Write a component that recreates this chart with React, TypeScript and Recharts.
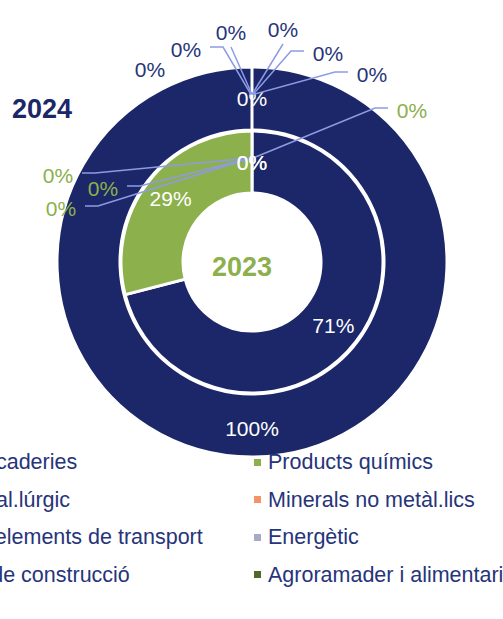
import React from 'react';
import { PieChart, Pie, Cell } from 'recharts';

const CATEGORIES = [
  'Altres mercaderies',
  'Products químics',
  'Siderometal.lúrgic',
  'Minerals no metàl.lics',
  'Vehicles i elements de transport',
  'Energètic',
  'Materials de construcció',
  'Agroramader i alimentari',
];
const COLORS = ['#1B2768', '#8CB04C', '#4A78C0', '#F39468', '#8EA0D8', '#A5ABC6', '#6E7FB3', '#50692B'];

const VALUES_2023 = [71, 29, 0, 0, 0, 0, 0, 0];
const VALUES_2024 = [100, 0, 0, 0, 0, 0, 0, 0];

const NAVY = '#1B2768';
const GREEN = '#8CB04C';
const TEXT = '#26347A';
const LEADER = '#8E9BE4';
const FONT = '"Liberation Sans", Arial, sans-serif';

const CX = 252;
const CY = 262;

// where the zero labels were dragged to, relative to the chart centre; null = left in place
type Spot = { dx: number; dy: number; line: 'left' | 'right' | 'below' | 'none' } | null;
const SPOTS_2024: Spot[] = [
  null,
  null,
  { dx: -102, dy: -193, line: 'none' },
  { dx: -66, dy: -213, line: 'left' },
  { dx: -21, dy: -230, line: 'below' },
  { dx: 31, dy: -233, line: 'below' },
  { dx: 76, dy: -209, line: 'right' },
  { dx: 120, dy: -188, line: 'right' },
];
const SPOTS_2023: Spot[] = [
  null,
  null,
  { dx: 160, dy: -152, line: 'right' },
  { dx: -194, dy: -87, line: 'left' },
  { dx: -149, dy: -74, line: 'left' },
  { dx: -191, dy: -54, line: 'left' },
  null,
  null,
];

const RAD = Math.PI / 180;

const makeLabel = (spots: Spot[], color: string) => (props: any) => {
  const { cx, cy, midAngle, innerRadius, outerRadius, value, index } = props;
  const r = (innerRadius + outerRadius) / 2;
  const ax = cx + r * Math.cos(-midAngle * RAD);
  const ay = cy + r * Math.sin(-midAngle * RAD);
  const spot = spots[index];
  const txt = `${value}%`;
  if (!spot) {
    // labels left in place sit a touch further out on the big slices
    const rr = value > 0 ? r + 3 : r;
    return (
      <text
        x={cx + rr * Math.cos(-midAngle * RAD)}
        y={cy + rr * Math.sin(-midAngle * RAD)}
        fill="#fff"
        fontSize={21}
        fontFamily={FONT}
        textAnchor="middle"
        dominantBaseline="central"
      >
        {txt}
      </text>
    );
  }
  const lx = cx + spot.dx;
  const ly = cy + spot.dy;
  let pts = '';
  if (spot.line === 'left') pts = `${lx + 24},${ly - 2} ${lx + 37},${ly - 2} ${ax - 1},${ay - 4}`;
  if (spot.line === 'right') pts = `${lx - 24},${ly - 2} ${lx - 37},${ly - 2} ${ax + 1},${ay - 4}`;
  if (spot.line === 'below') pts = `${lx},${ly + 15} ${ax},${ay - 4}`;
  return (
    <g>
      {pts && <polyline points={pts} fill="none" stroke={LEADER} strokeWidth={1.5} />}
      <text x={lx} y={ly} fill={color} fontSize={21} fontFamily={FONT} textAnchor="middle" dominantBaseline="central">
        {txt}
      </text>
    </g>
  );
};

const toData = (vals: number[]) => CATEGORIES.map((name, i) => ({ name, value: vals[i] }));

export default function App() {
  const data2024 = toData(VALUES_2024);
  const data2023 = toData(VALUES_2023);
  return (
    <div style={{ position: 'absolute', left: 0, top: 0, width: 503, height: 619, overflow: 'hidden', background: '#fff', fontFamily: FONT }}>
      <PieChart width={503} height={619} margin={{ top: 0, right: 0, bottom: 0, left: 0 }}>
        <Pie
          data={data2024}
          dataKey="value"
          cx={CX}
          cy={CY}
          innerRadius={132}
          outerRadius={195}
          startAngle={90}
          endAngle={-270}
          stroke="#fff"
          strokeWidth={3}
          label={makeLabel(SPOTS_2024, TEXT)}
          labelLine={false}
          isAnimationActive={false}
        >
          {data2024.map((d, i) => (
            <Cell key={d.name} fill={COLORS[i]} />
          ))}
        </Pie>
        <Pie
          data={data2023}
          dataKey="value"
          cx={CX}
          cy={CY}
          innerRadius={69}
          outerRadius={131}
          startAngle={90}
          endAngle={-270}
          stroke="#fff"
          strokeWidth={3}
          label={makeLabel(SPOTS_2023, GREEN)}
          labelLine={false}
          isAnimationActive={false}
        >
          {data2023.map((d, i) => (
            <Cell key={d.name} fill={COLORS[i]} />
          ))}
        </Pie>
      </PieChart>

      <div style={{ position: 'absolute', left: 12, top: 94, fontSize: 27, fontWeight: 700, color: NAVY }}>2024</div>
      <div style={{ position: 'absolute', left: 212, top: 252, fontSize: 27, fontWeight: 700, color: GREEN }}>2023</div>

      <div
        style={{
          position: 'absolute',
          left: -116,
          top: 450,
          display: 'grid',
          gridTemplateColumns: '370px 300px',
          rowGap: 13.5,
          fontSize: 21.5,
          color: TEXT,
          lineHeight: '24px',
        }}
      >
        {CATEGORIES.map((c, i) => (
          <div key={c} style={{ display: 'flex', alignItems: 'center', whiteSpace: 'nowrap' }}>
            <span style={{ width: 7, height: 7, background: COLORS[i], marginRight: 7, flex: 'none' }} />
            <span>{c}</span>
          </div>
        ))}
      </div>
    </div>
  );
}
